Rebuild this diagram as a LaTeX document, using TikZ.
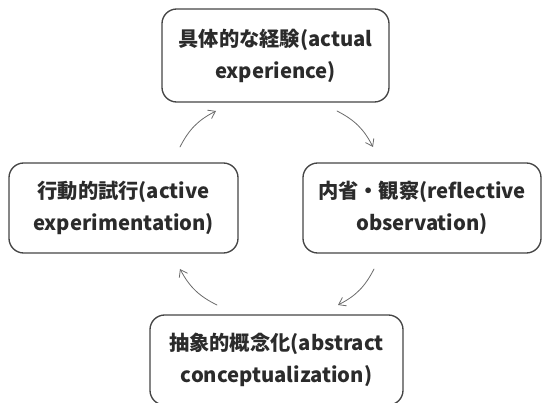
\documentclass[tikz,border=0pt]{standalone}
\usepackage{fontspec}
\setmainfont{Noto Sans CJK JP}
\usetikzlibrary{arrows.meta}
\definecolor{klink}{HTML}{2B2B2B}
\definecolor{klline}{HTML}{454545}
\definecolor{klarrowc}{HTML}{6A6A6A}
\tikzset{
  klbox/.style={
    draw=klline, fill=white, rounded corners=11pt, line width=1pt,
    align=center, text=klink, inner sep=0pt,
    font=\fontsize{15.2}{24}\selectfont\bfseries},
  klarrow/.style={-{Straight Barb[length=5pt, width=7pt]}, draw=klarrowc,
    line width=0.6pt},
  every picture/.style={line cap=round},
}

\begin{document}
\begin{tikzpicture}[x=0.75pt, y=-0.75pt]
\useasboundingbox (0,0) rectangle (544,403);

% The four stages of the cycle.
\node[klbox, minimum width=170.25pt, minimum height=69.75pt] (exp)
  at (275.5, 55.5) {具体的な経験(actual\\experience)};
\node[klbox, minimum width=171.75pt, minimum height=67.5pt] (act)
  at (123.5, 208) {行動的試行(active\\experimentation)};
\node[klbox, minimum width=178.5pt, minimum height=67.5pt] (ref)
  at (422, 208) {内省・観察(reflective\\observation)};
\node[klbox, minimum width=189.75pt, minimum height=67.5pt] (abs)
  at (276.5, 360) {抽象的概念化(abstract\\conceptualization)};

% Arrow ends sit in the gaps between the boxes.
\coordinate (a1s) at (180, 147);
\coordinate (a1e) at (216, 111);
\coordinate (a2s) at (337, 111);
\coordinate (a2e) at (373, 147);
\coordinate (a3s) at (374, 269);
\coordinate (a3e) at (338, 305);
\coordinate (a4s) at (217, 305);
\coordinate (a4e) at (180, 269);

% Clockwise cycle.
\foreach \s/\e in {a1s/a1e, a2s/a2e, a3s/a3e, a4s/a4e} {
  \draw[klarrow] (\s) to[bend left=18] (\e);
}

\end{tikzpicture}
\end{document}
